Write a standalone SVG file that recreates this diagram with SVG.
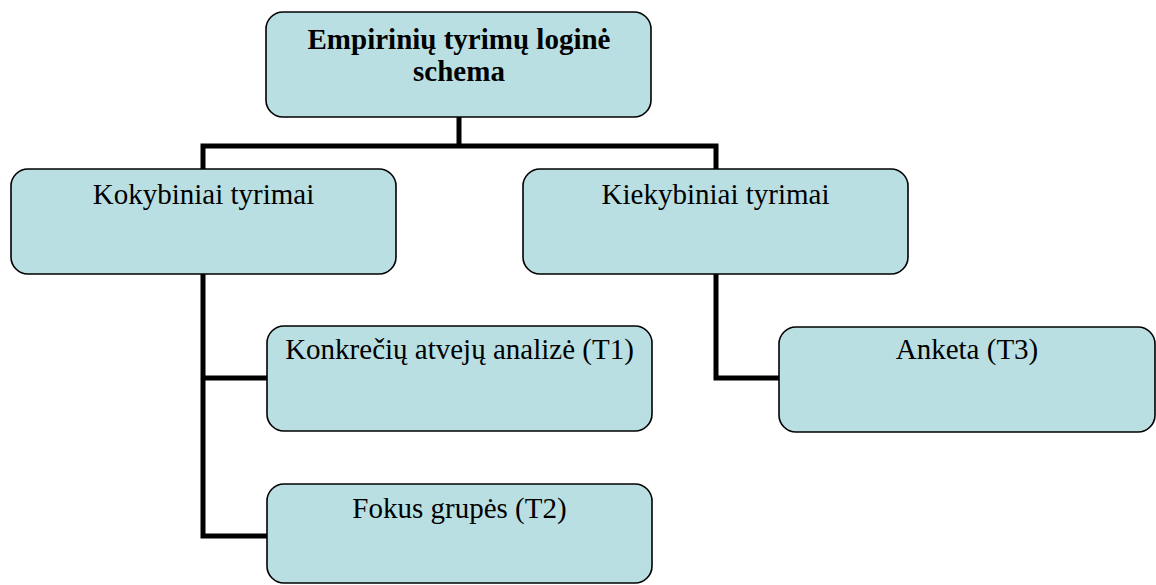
<svg xmlns="http://www.w3.org/2000/svg" width="1156" height="585" viewBox="0 0 1156 585">
  <style>
    .box { fill: #BADFE3; stroke: #000; stroke-width: 1.6; }
    .wire { fill: none; stroke: #000; stroke-width: 5; stroke-linejoin: miter; stroke-linecap: butt; }
    .lbl { font-size: 29px; fill: #000; text-anchor: middle; }
    .bold { font-weight: bold; }
  </style>
  <rect width="1156" height="585" fill="#fff"/>

  <!-- tree connectors -->
  <g id="connectors">
    <path class="wire" d="M459,117 V146"/>
    <path class="wire" d="M203,169 V146 H716 V169"/>
    <path class="wire" d="M203,274 V536 H267"/>
    <path class="wire" d="M203,378 H267"/>
    <path class="wire" d="M716,274 V378 H779"/>
  </g>

  <g font-family="Liberation Serif, DejaVu Serif, serif">
    <g id="root">
      <rect class="box" x="266" y="12" width="385" height="105" rx="17"/>
      <text class="lbl bold" x="459" y="49">Empirinių tyrimų loginė</text>
      <text class="lbl bold" x="459" y="81">schema</text>
    </g>

    <g id="kokybiniai">
      <rect class="box" x="11" y="169" width="385" height="105" rx="17"/>
      <text class="lbl" x="203.5" y="204">Kokybiniai tyrimai</text>
    </g>

    <g id="kiekybiniai">
      <rect class="box" x="523" y="169" width="385" height="105" rx="17"/>
      <text class="lbl" x="715.5" y="204">Kiekybiniai tyrimai</text>
    </g>

    <g id="t1">
      <rect class="box" x="267" y="326" width="385" height="105" rx="17"/>
      <text class="lbl" x="459.5" y="359">Konkrečių atvejų analizė (T1)</text>
    </g>

    <g id="t2">
      <rect class="box" x="267" y="484" width="385" height="99" rx="17"/>
      <text class="lbl" x="459.5" y="518">Fokus grupės (T2)</text>
    </g>

    <g id="t3">
      <rect class="box" x="779" y="327" width="376" height="105" rx="17"/>
      <text class="lbl" x="967" y="359">Anketa (T3)</text>
    </g>
  </g>
</svg>
